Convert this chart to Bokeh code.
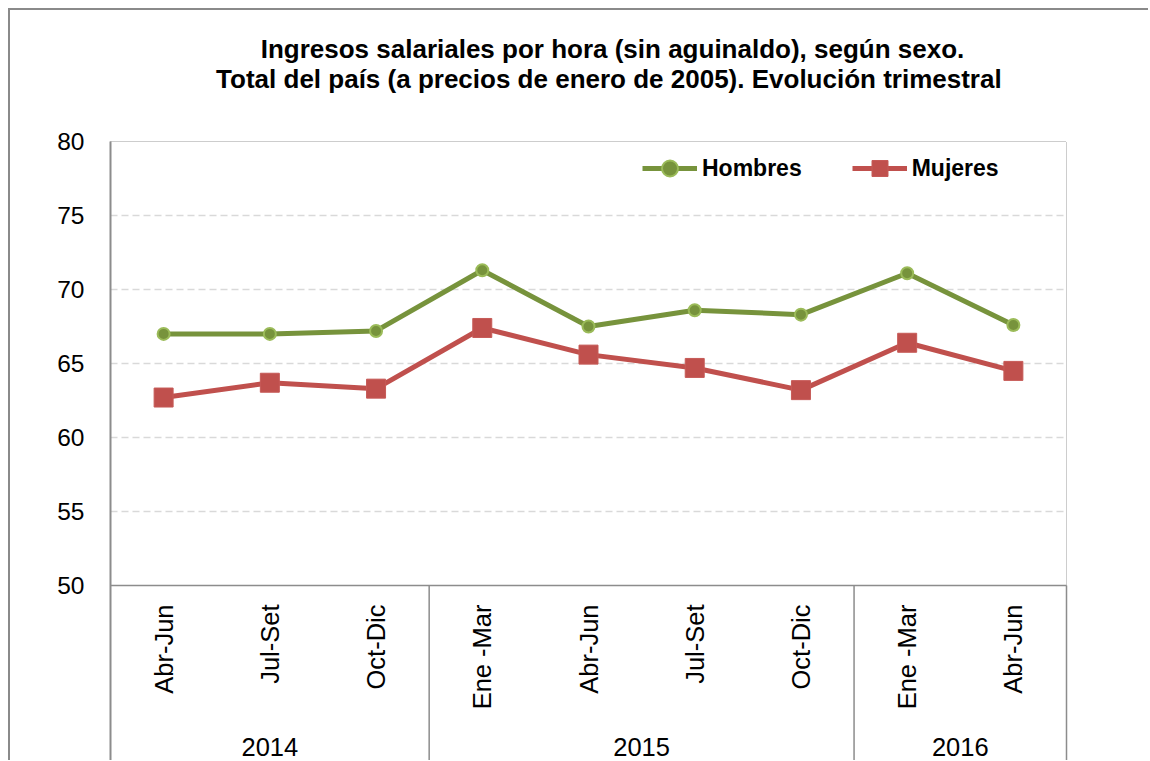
import numpy as np
from bokeh.plotting import figure
from bokeh.models import Range1d, FixedTicker, Legend, LegendItem
from bokeh.core.properties import value
from bokeh.embed import file_html
from bokeh.resources import INLINE

# ---------------- data ----------------
quarters = ["Abr-Jun", "Jul-Set", "Oct-Dic", "Ene -Mar", "Abr-Jun",
            "Jul-Set", "Oct-Dic", "Ene -Mar", "Abr-Jun"]
years = ["2014", "2015", "2016"]
year_sizes = [3, 4, 2]
hombres = [67.0, 67.0, 67.2, 71.3, 67.5, 68.6, 68.3, 71.1, 67.6]
mujeres = [62.7, 63.7, 63.3, 67.4, 65.6, 64.7, 63.2, 66.4, 64.5]
y_ticks = [50, 55, 60, 65, 70, 75, 80]
grid_vals = [55, 60, 65, 70, 75]
title_lines = ["Ingresos salariales por hora (sin aguinaldo), según sexo.",
               "Total del país (a precios de enero de 2005).  Evolución trimestral"]

# ---------------- layout (pixels) ----------------
FONT = "Liberation Sans"
n = len(quarters)
xs = np.arange(n) + 0.5
y_min, y_max = y_ticks[0], y_ticks[-1]

page_top = 10
frame_left_page = 108
plot_left, plot_right = 110, 1066
ytop_px, ybot_px = 141, 585
canvas_h = 750
frame_w = 962
border_left, border_right = 98, 78

u = (plot_right - plot_left) / n
k = (ybot_px - ytop_px) / (y_max - y_min)
x_lo = -(plot_left - frame_left_page) / u
x_hi = x_lo + frame_w / u
y_hi = y_max + (ytop_px - page_top) / k
y_lo = y_hi - canvas_h / k

p = figure(frame_width=frame_w, frame_height=canvas_h,
           min_border_left=border_left, min_border_right=border_right,
           min_border_top=0, min_border_bottom=0,
           x_range=Range1d(x_lo, x_hi), y_range=Range1d(y_lo, y_hi),
           x_axis_location=None, toolbar_location=None, output_backend="svg")
p.styles = {"margin-left": "8px", "margin-top": "8px",
            "border-left": "2px solid #8a8a8a", "border-top": "2px solid #8a8a8a"}
p.outline_line_color = None
p.xgrid.visible = False
p.ygrid.visible = False
p.background_fill_color = "white"
p.border_fill_color = "white"

ax = p.yaxis[0]
ax.ticker = FixedTicker(ticks=y_ticks)
ax.axis_line_color = None
ax.major_tick_line_color = None
ax.minor_tick_line_color = None
ax.major_label_text_font = FONT
ax.major_label_text_font_size = "24.5px"
ax.major_label_text_color = "black"
ax.major_label_standoff = 18

# grid lines
p.segment(x0=[0] * len(grid_vals), y0=grid_vals, x1=[n] * len(grid_vals), y1=grid_vals,
          line_color="#d9d9d9", line_width=1.5, line_dash="7 4")
# dotted top and right frame
p.segment(x0=[0, n], y0=[y_max, y_min], x1=[n, n], y1=[y_max, y_max],
          line_color="#9a9a9a", line_width=1, line_dash="1 1")
# category axis line
p.segment(x0=[0], y0=[y_min], x1=[n], y1=[y_min], line_color="#8c8c8c", line_width=1.5)
# left axis line
p.segment(x0=[0], y0=[y_max], x1=[0], y1=[y_lo], line_color="#8c8c8c", line_width=2)
# year separators
bounds = list(np.cumsum(year_sizes))
p.segment(x0=bounds, y0=[y_min] * len(bounds), x1=bounds, y1=[y_lo] * len(bounds),
          line_color="#8c8c8c", line_width=1.5)

# series
lh = p.line(xs, hombres, line_color="#77933C", line_width=5)
sh = p.scatter(xs, hombres, marker="circle", size=12, fill_color="#77933C",
               line_color="#9BBB59", line_width=2)
lm = p.line(xs, mujeres, line_color="#C0504D", line_width=5)
sm = p.scatter(xs, mujeres, marker="square", size=19, fill_color="#C0504D",
               line_color="#C65A57", line_width=1)

# category labels
p.text(x=xs, y=[y_min] * n, text=quarters, angle=np.pi / 2, text_align="right",
       text_baseline="middle", y_offset=19, text_font=value(FONT),
       text_font_size="25.5px", text_color="black")
starts = np.concatenate([[0], np.cumsum(year_sizes)[:-1]])
centers = starts + np.array(year_sizes) / 2
p.text(x=centers, y=[y_min] * len(years), text=years, text_align="center",
       text_baseline="middle", y_offset=161, text_font=value(FONT),
       text_font_size="25.5px", text_color="black")

# title
p.text(x=[n / 2] * 2, y=[y_max] * 2, text=title_lines, text_align="center",
       text_baseline="alphabetic", x_offset=24, y_offset=[-93, -63],
       text_font=value(FONT), text_font_size="26px", text_font_style="bold",
       text_color="black")

legend = Legend(items=[LegendItem(label="Hombres", renderers=[lh, sh]),
                       LegendItem(label="Mujeres", renderers=[lm, sm])],
                orientation="horizontal", location=(534, 572),
                border_line_color=None, background_fill_alpha=0,
                padding=0, margin=0, spacing=50, glyph_width=55, glyph_height=40,
                label_standoff=5, label_height=26,
                label_text_font=FONT, label_text_font_size="23px",
                label_text_font_style="bold", label_text_color="black")
p.add_layout(legend)

open("out.html", "w").write(file_html(p, INLINE))
